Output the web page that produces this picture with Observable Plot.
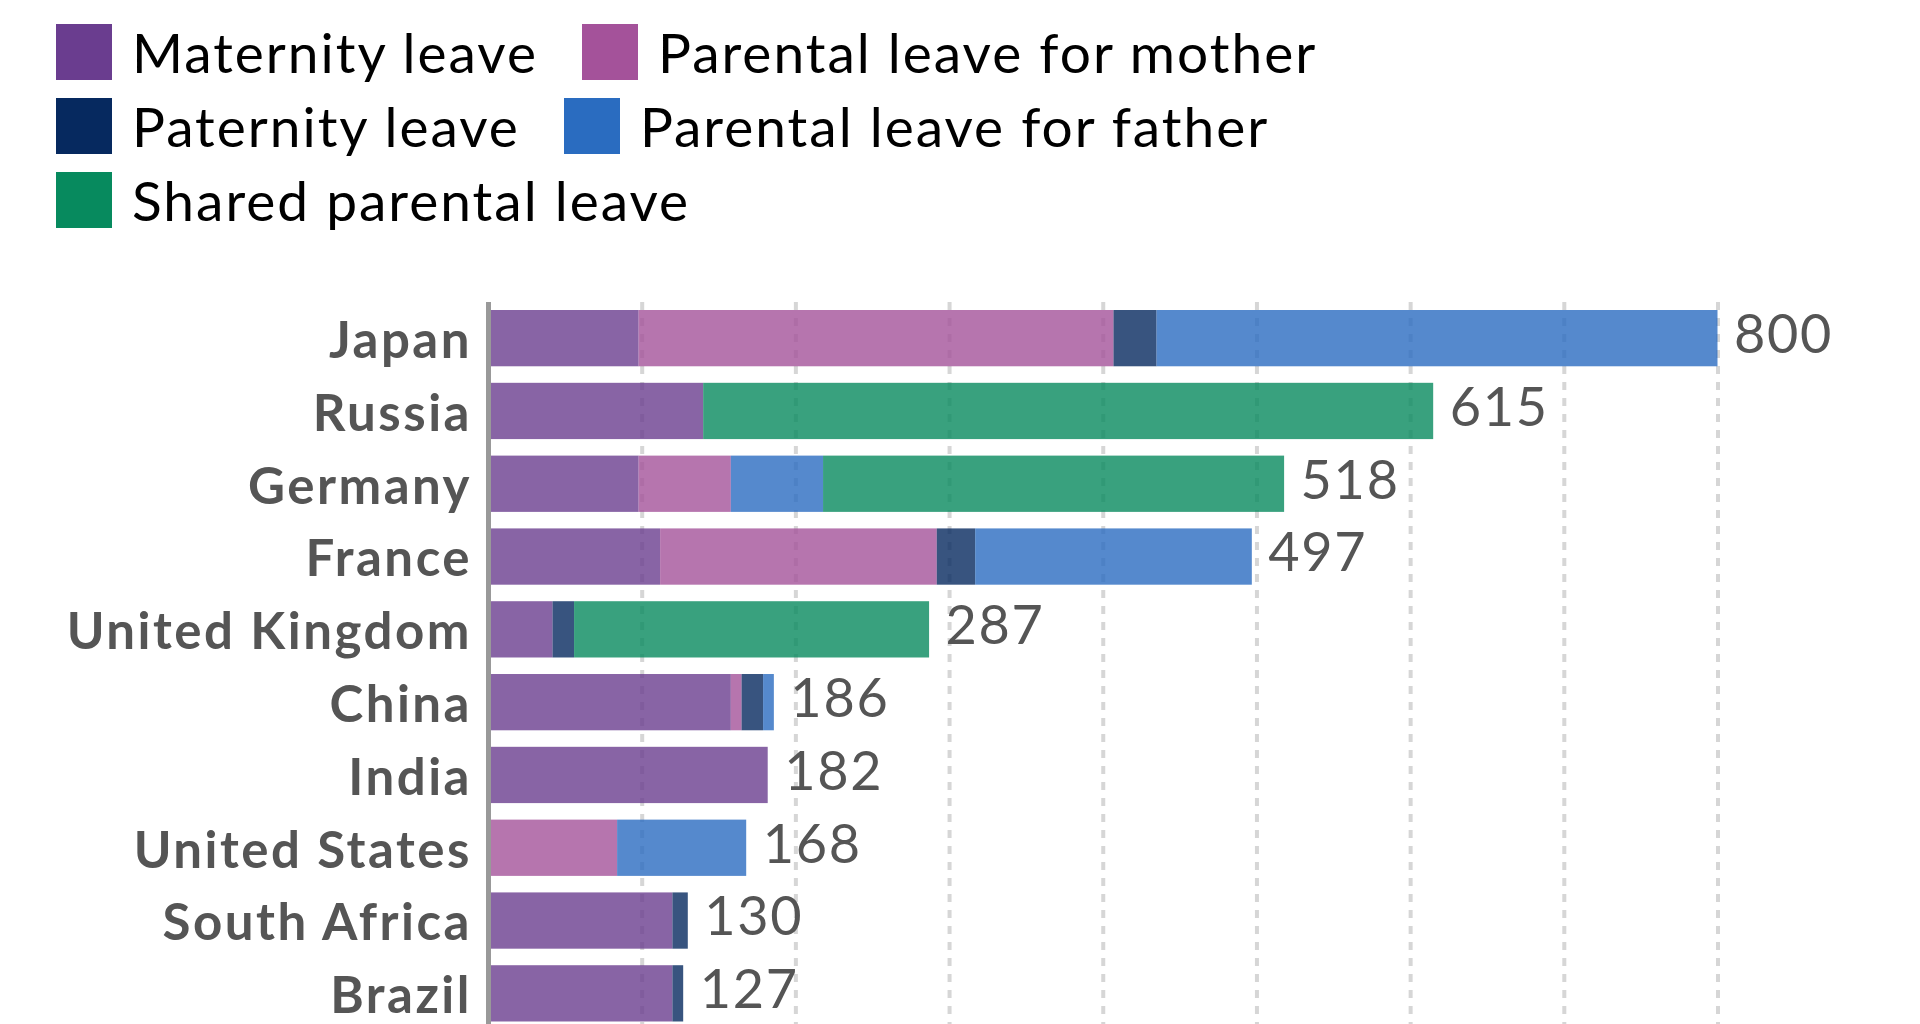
<!DOCTYPE html>
<html>
<head>
<meta charset="utf-8">
<script src="https://cdn.jsdelivr.net/npm/d3@7"></script>
<script src="https://cdn.jsdelivr.net/npm/@observablehq/plot@0.6"></script>
<style>
  html, body { margin: 0; padding: 0; background: #fff; overflow: hidden; font-family: Lato, "Open Sans", sans-serif; }
  #legend { position: absolute; left: 56px; top: 24px; width: 1350px; display: flex; flex-wrap: wrap; }
  .item { display: flex; align-items: center; height: 56px; margin: 0 44px 18px 0; }
  .sw { width: 56px; height: 56px; margin-right: 20px; flex: none; }
  .lab { font-size: 55px; letter-spacing: 2px; color: #000; line-height: 56px; white-space: nowrap; }
  #chart { position: absolute; left: 0; top: 240px; }
  #chart svg { display: block; }
</style>
</head>
<body>
<div id="legend"></div>
<div id="chart"></div>
<script>
const countries = ["Japan","Russia","Germany","France","United Kingdom","China","India","United States","South Africa","Brazil"];
const types = ["Maternity leave","Parental leave for mother","Paternity leave","Parental leave for father","Shared parental leave"];
const colors = ["#6a3d8f","#a4529a","#06295f","#2a6cc0","#078a5e"];
const maternity      = [98, 140, 98, 112, 42, 158, 182, 0, 120, 120];
const parentalMother = [309, 0, 60, 180, 0, 7, 0, 84, 0, 0];
const paternity      = [28, 0, 0, 25, 14, 14, 0, 0, 10, 7];
const parentalFather = [365, 0, 60, 180, 0, 7, 0, 84, 0, 0];
const shared         = [0, 475, 300, 0, 231, 0, 0, 0, 0, 0];
const gridTicks = [100, 200, 300, 400, 500, 600, 700, 800];

const seriesValues = [maternity, parentalMother, paternity, parentalFather, shared];
const long = [];
types.forEach((t, ti) => countries.forEach((c, ci) => long.push({country: c, type: t, value: seriesValues[ti][ci]})));
const totals = countries.map((c, i) => ({country: c, total: seriesValues.reduce((s, arr) => s + arr[i], 0)}));

// legend
const legend = document.getElementById("legend");
types.forEach((t, i) => {
  const it = document.createElement("div"); it.className = "item";
  const sw = document.createElement("div"); sw.className = "sw"; sw.style.background = colors[i];
  const lb = document.createElement("div"); lb.className = "lab"; lb.textContent = t;
  it.appendChild(sw); it.appendChild(lb); legend.appendChild(it);
});

const chart = Plot.plot({
  width: 1920,
  height: 800,
  marginTop: 62,
  marginBottom: 10.5,
  marginLeft: 488,
  marginRight: 202.5,
  style: {fontFamily: "Lato, sans-serif", background: "transparent"},
  x: {domain: [0, 800], axis: null},
  y: {domain: countries, paddingInner: 0.227, paddingOuter: 0.11, round: false, label: null},
  color: {domain: types, range: colors},
  marks: [
    Plot.gridX(gridTicks, {stroke: "#d6d6d6", strokeOpacity: 1, strokeWidth: 4, strokeDasharray: "8,8"}),
    Plot.barX(long, Plot.stackX({x: "value", y: "country", fill: "type", fillOpacity: 0.8, order: null})),
    Plot.ruleX([0], {stroke: "#999", strokeWidth: 5}),
    Plot.text(totals, {x: "total", y: "country", text: d => String(d.total), dx: 16, dy: -3, textAnchor: "start", fontSize: 54, fill: "#555"}),
    Plot.axisY({tickSize: 0, tickPadding: 16.5, dy: 3, fontSize: 51, fontWeight: "bold", fill: "#555", label: null})
  ]
});
d3.select(chart).selectAll('g[aria-label="y-axis tick label"] text').style("letter-spacing", "2.5px");
d3.select(chart).selectAll('g[aria-label="text"] text').style("letter-spacing", "1.7px");
document.getElementById("chart").appendChild(chart);
</script>
</body>
</html>
